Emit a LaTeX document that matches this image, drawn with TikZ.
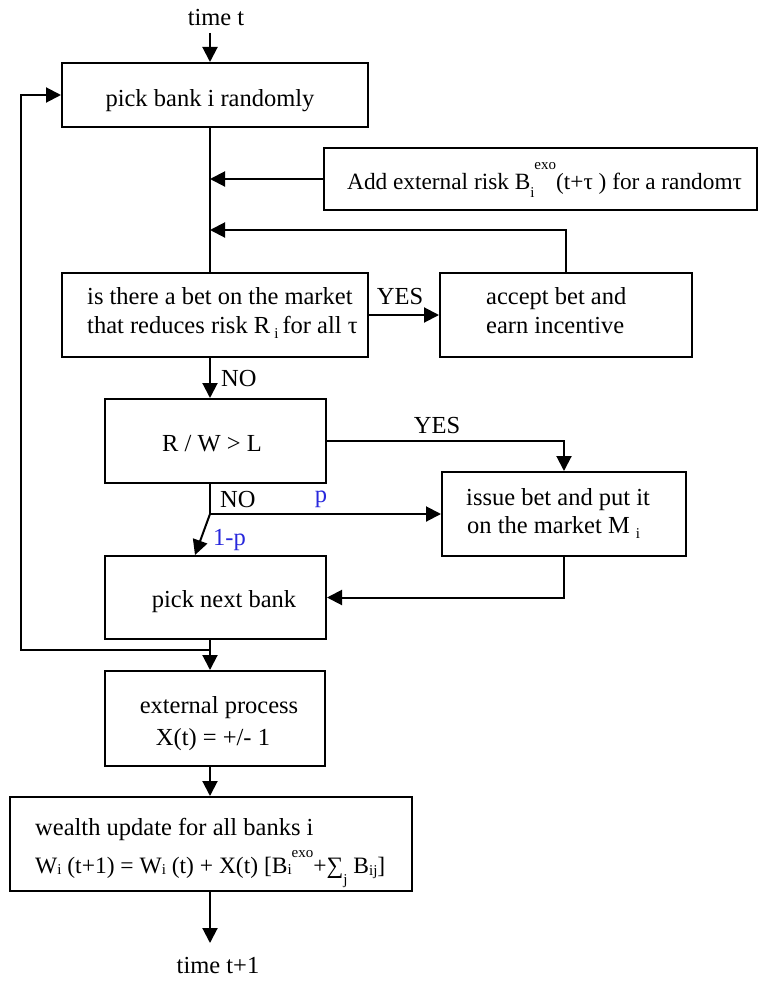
\documentclass[tikz,border=0pt]{standalone}
\usepackage{fontspec}
\setmainfont{Liberation Serif}
\usetikzlibrary{arrows.meta}
\definecolor{lblblue}{RGB}{40,40,220}
\newcommand\smallt[1]{{\fontsize{15}{15}\selectfont #1}}
\newcommand\lo[2]{\raisebox{-#1pt}{\smallt{#2}}}
\newcommand\hi[2]{\raisebox{#1pt}{\smallt{#2}}}
\begin{document}
\begin{tikzpicture}[x=1pt,y=-1pt,
  box/.style={draw, line width=2pt, inner sep=0pt},
  txt/.style={inner sep=0pt, font=\fontsize{24.5}{29}\selectfont},
  lbl/.style={inner sep=0pt, font=\fontsize{24.5}{29}\selectfont},
  bl/.style={inner sep=0pt, text=lblblue, font=\fontsize{24.5}{29}\selectfont},
  ln/.style={line width=2pt},
  arr/.style={line width=2pt, -{Triangle[length=15pt,width=15pt]}}]
\useasboundingbox (0,0) rectangle (759,982);
\coordinate (sp) at (210,0);
% boxes
\node[box, minimum width=306, minimum height=64] (pick) at (215,95) {};
\node[box, minimum width=433, minimum height=62] (risk) at (540.5,179) {};
\node[box, minimum width=306, minimum height=84] (isq) at (215,315) {};
\node[box, minimum width=252, minimum height=84] (acc) at (566,315) {};
\node[box, minimum width=221, minimum height=84] (rw) at (215.5,441) {};
\node[box, minimum width=244, minimum height=84] (iss) at (564,514) {};
\node[box, minimum width=221, minimum height=83] (nxt) at (215.5,597.5) {};
\node[box, minimum width=220, minimum height=95] (ext) at (215,718.5) {};
\node[box, minimum width=402, minimum height=94] (wlt) at (211,844) {};
% texts
\node[txt, anchor=base] (tt) at (216,26) {time t};
\node[txt, anchor=base] (pickt) at (210,106) {pick bank i randomly};
\node[txt, anchor=base west, font=\fontsize{23.3}{28}\selectfont] (riskt) at (347,189) {Add external risk B\lo{8}{i}\hi{20}{exo}(t+τ ) for a randomτ};
\node[txt, anchor=base west] (isq1) at (87,304) {is there a bet on the market};
\node[txt, anchor=base west] (isq2) at (87,333) {that reduces risk R\,\lo{5}{i}\,for all τ};
\node[txt, anchor=base west] (acc1) at (486,304) {accept bet and};
\node[txt, anchor=base west] (acc2) at (486,333) {earn incentive};
\node[txt, anchor=base] (rwt) at (212,451) {R / W > L};
\node[txt, anchor=base west] (iss1) at (466,505) {issue bet and put it};
\node[txt, anchor=base west] (iss2) at (467,533) {on the market M \lo{5}{i}};
\node[txt, anchor=base] (nxtt) at (224,607) {pick next bank};
\node[txt, anchor=base] (ext1) at (219,713) {external process};
\node[txt, anchor=base] (ext2) at (213,745) {X(t) = +/- 1};
\node[txt, anchor=base west] (wlt1) at (35,835) {wealth update for all banks i};
\node[txt, anchor=base west, font=\fontsize{23.5}{28}\selectfont] (wlt2) at (35,873) {W\lo{1}{i} (t+1) = W\lo{1}{i} (t) + X(t) [B\lo{1}{i}\hi{16}{exo}+∑\lo{11}{j} B\lo{2}{ij}]};
\node[txt, anchor=base] (tt1) at (218,973) {time t+1};
% labels
\node[lbl, anchor=base] (yes1) at (400,304) {YES};
\node[lbl, anchor=base west] (no1) at (221,386) {NO};
\node[lbl, anchor=base] (yes2) at (437,433) {YES};
\node[lbl, anchor=base west] (no2) at (220,507) {NO};
\node[bl, anchor=base] (p) at (321,502) {p};
\node[bl, anchor=base west] (omp) at (213,545) {1-p};
% connectors
\coordinate (s0) at (210,33);
\coordinate (j2) at (210,230);
\coordinate (nb) at (210,514);
\coordinate (lp) at (210,650);
\coordinate (lc) at (21,650);
\coordinate (e1) at (210,943);
\draw[arr] (s0) -- (s0 |- pick.north);
\draw[ln] (pick.south -| sp) -- (isq.north -| sp);
\draw[arr] (risk.west) -- (risk.west -| sp);
\draw[arr] (acc.north) |- (j2);
\draw[arr] (isq.east) -- (acc.west);
\draw[arr] (isq.south -| sp) -- (rw.north -| sp);
\draw[arr] (rw.east) -| (iss.north);
\draw[ln] (rw.south -| sp) -- (nb);
\draw[arr] (nb) -- (iss.west);
\draw[arr] (nb) -- ([xshift=-20.5pt]nxt.north);
\draw[arr] (iss.south) |- (nxt.east);
\draw[arr] (nxt.south -| sp) -- (ext.north -| sp);
\draw[arr] (lp) -- (lc) |- (pick.west);
\draw[arr] (ext.south -| sp) -- (wlt.north -| sp);
\draw[arr] (wlt.south -| sp) -- (e1);
\end{tikzpicture}
\end{document}
